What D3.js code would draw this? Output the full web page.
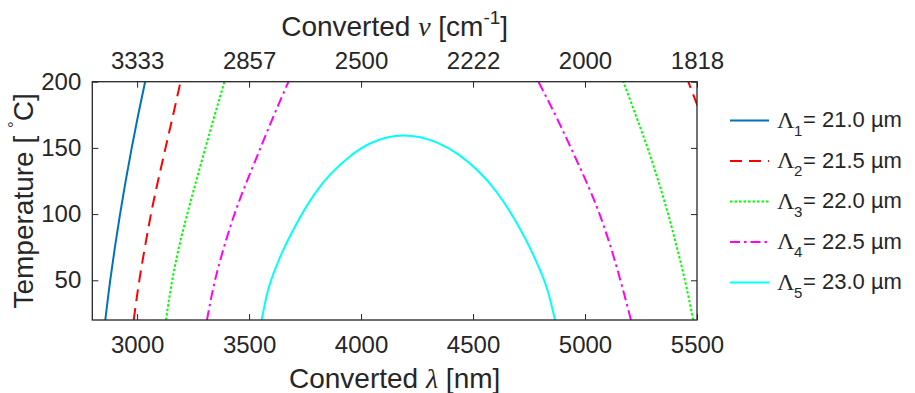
<!DOCTYPE html>
<html>
<head>
<meta charset="utf-8">
<script src="https://cdn.jsdelivr.net/npm/d3@7/dist/d3.min.js"></script>
<style>
  html, body { margin: 0; padding: 0; background: #fff; }
  svg { display: block; }
  text { font-family: "Liberation Sans", Arial, sans-serif; fill: #262626; }
</style>
</head>
<body>
<svg id="chart" width="915" height="393"></svg>
<script>
// ---------------- data ----------------
const xTicks = [3000, 3500, 4000, 4500, 5000, 5500];
const topTickLabels = ["3333", "2857", "2500", "2222", "2000", "1818"];
const yTicks = [50, 100, 150, 200];

// temperature grid shared by the branches of Λ1..Λ4
const tempGrid = [20, 50, 75, 100, 150, 175, 200];
const lam1Left  = [2858, 2880, 2901, 2924, 2976, 3005, 3036];
const lam2Left  = [2985, 3010, 3035, 3062, 3127, 3161, 3194];
const lam3Left  = [3129, 3157, 3187, 3224, 3305, 3347, 3390];
const lam4Left  = [3312, 3348, 3388, 3435, 3551, 3612, 3676];
const lam4Right = [5205, 5158, 5115, 5065, 4937, 4867, 4792];
const lam3Right = [5483, 5446, 5410, 5371, 5279, 5226, 5171];
// Λ2 right branch only enters the top-right corner
const lam2RightLam = [5461, 5502];
const lam2RightTemp = [200, 182];
// Λ5 closed arch
const lam5Lam  = [3556, 3581, 3630, 3697, 3800, 3950, 4040, 4190, 4337, 4434, 4605, 4695, 4776, 4836, 4866];
const lam5Temp = [20, 40, 64, 88, 117, 143.5, 153.3, 159.4, 154.2, 145.1, 116.7, 93.3, 66.5, 40.6, 20];

const seriesNames = ["1", "2", "3", "4", "5"];
const seriesValues = ["21.0", "21.5", "22.0", "22.5", "23.0"];
const seriesColors = ["#0072BD", "#FF0000", "#00FF00", "#FF00FF", "#00FFFF"];
const seriesDash = [null, "12,7", "2.5,2", "10,4,2.5,4", null];

// ---------------- layout ----------------
const svg = d3.select("#chart");
const L = 92.3, R = 697, T = 81.7, B = 320;
const x = d3.scaleLinear().domain([2800, 5500]).range([L, R]);
const y = d3.scaleLinear().domain([20, 200]).range([B, T]);
const axisColor = "#262626";

svg.append("defs").append("clipPath").attr("id", "clip")
  .append("rect").attr("x", L).attr("y", T).attr("width", R - L).attr("height", B - T);

function zipPts(lams, temps) { return lams.map((l, i) => [l, temps[i]]); }

const curves = [
  { s: 0, pts: zipPts(lam1Left, tempGrid), arch: false },
  { s: 1, pts: zipPts(lam2Left, tempGrid), arch: false },
  { s: 1, pts: zipPts(lam2RightLam, lam2RightTemp), arch: false },
  { s: 2, pts: zipPts(lam3Left, tempGrid), arch: false },
  { s: 2, pts: zipPts(lam3Right, tempGrid), arch: false },
  { s: 3, pts: zipPts(lam4Left, tempGrid), arch: false },
  { s: 3, pts: zipPts(lam4Right, tempGrid), arch: false },
  { s: 4, pts: zipPts(lam5Lam, lam5Temp), arch: true }
];

const branchLine = d3.line().x(d => x(d[0])).y(d => y(d[1])).curve(d3.curveMonotoneY);
const archLine = d3.line().x(d => x(d[0])).y(d => y(d[1])).curve(d3.curveMonotoneX);

const gCurves = svg.append("g").attr("clip-path", "url(#clip)");
curves.forEach(c => {
  const pts = c.arch ? c.pts : c.pts.slice().sort((a, b) => a[1] - b[1]);
  gCurves.append("path")
    .attr("d", (c.arch ? archLine : branchLine)(pts))
    .attr("fill", "none")
    .attr("stroke", seriesColors[c.s])
    .attr("stroke-width", 2)
    .attr("stroke-dasharray", seriesDash[c.s]);
});

// ---------------- axes ----------------
const tickLen = 6;
const fmt = d3.format("d");
const gx = svg.append("g").attr("transform", `translate(0,${B})`)
  .call(d3.axisBottom(x).tickValues(xTicks).tickFormat(fmt).tickSizeInner(-tickLen).tickSizeOuter(0).tickPadding(tickLen + 10));
const gxt = svg.append("g").attr("transform", `translate(0,${T})`)
  .call(d3.axisTop(x).tickValues(xTicks).tickSizeInner(-tickLen).tickSizeOuter(0).tickPadding(tickLen + 7)
    .tickFormat((d, i) => topTickLabels[i]));
const gy = svg.append("g").attr("transform", `translate(${L},0)`)
  .call(d3.axisLeft(y).tickValues(yTicks).tickFormat(fmt).tickSizeInner(-tickLen).tickSizeOuter(0).tickPadding(tickLen + 5));
const gyr = svg.append("g").attr("transform", `translate(${R},0)`)
  .call(d3.axisRight(y).tickValues(yTicks).tickSizeInner(-tickLen).tickSizeOuter(0).tickFormat(""));

[gx, gxt, gy, gyr].forEach(g => {
  g.select(".domain").remove();
  g.selectAll(".tick line").attr("stroke", axisColor).attr("stroke-width", 1);
  g.selectAll(".tick text").attr("fill", axisColor)
    .style("font-family", '"Liberation Sans", Arial, sans-serif').style("font-size", "24px");
});
gx.selectAll(".tick text").attr("dy", "0.71em");

svg.append("rect").attr("x", L).attr("y", T).attr("width", R - L).attr("height", B - T)
  .attr("fill", "none").attr("stroke", axisColor).attr("stroke-width", 1.3);

// ---------------- labels ----------------
const xl = svg.append("text").attr("x", (L + R) / 2).attr("y", 388)
  .attr("text-anchor", "middle").style("font-size", "28px");
xl.append("tspan").text("Converted ");
xl.append("tspan").style("font-family", '"Liberation Serif", serif').style("font-style", "italic").text("λ");
xl.append("tspan").text(" [nm]");

const tl = svg.append("text").attr("x", (L + R) / 2).attr("y", 36)
  .attr("text-anchor", "middle").style("font-size", "28px");
tl.append("tspan").text("Converted ");
tl.append("tspan").style("font-family", '"Liberation Serif", serif').style("font-style", "italic").text("ν");
tl.append("tspan").text(" [cm");
tl.append("tspan").attr("dy", -12).style("font-size", "19px").text("-1");
tl.append("tspan").attr("dy", 12).text("]");

const yl = svg.append("text").attr("transform", `translate(33,${(T + B) / 2}) rotate(-90)`)
  .attr("text-anchor", "middle").style("font-size", "28px");
yl.append("tspan").text("Temperature [ ");
yl.append("tspan").attr("dy", -13).style("font-size", "17px").text("°");
yl.append("tspan").attr("dy", 13).text("C]");

// ---------------- legend ----------------
const legX0 = 730, legX1 = 769, legY0 = 120.5, legStep = 40.5;
seriesNames.forEach((n, i) => {
  const yy = legY0 + i * legStep;
  svg.append("line").attr("x1", legX0).attr("x2", legX1).attr("y1", yy).attr("y2", yy)
    .attr("stroke", seriesColors[i]).attr("stroke-width", 2)
    .attr("stroke-dasharray", seriesDash[i]);
  svg.append("text").attr("x", 777).attr("y", yy + 7)
    .style("font-family", '"Liberation Serif", serif').style("font-size", "24px").attr("fill", "#000")
    .text("Λ");
  svg.append("text").attr("x", 794).attr("y", yy + 15)
    .style("font-size", "15px").attr("fill", "#000").text(n);
  svg.append("text").attr("x", 803).attr("y", yy + 6.5)
    .style("font-size", "22px").attr("fill", "#000").text("= " + seriesValues[i] + " µm");
});
</script>
</body>
</html>
